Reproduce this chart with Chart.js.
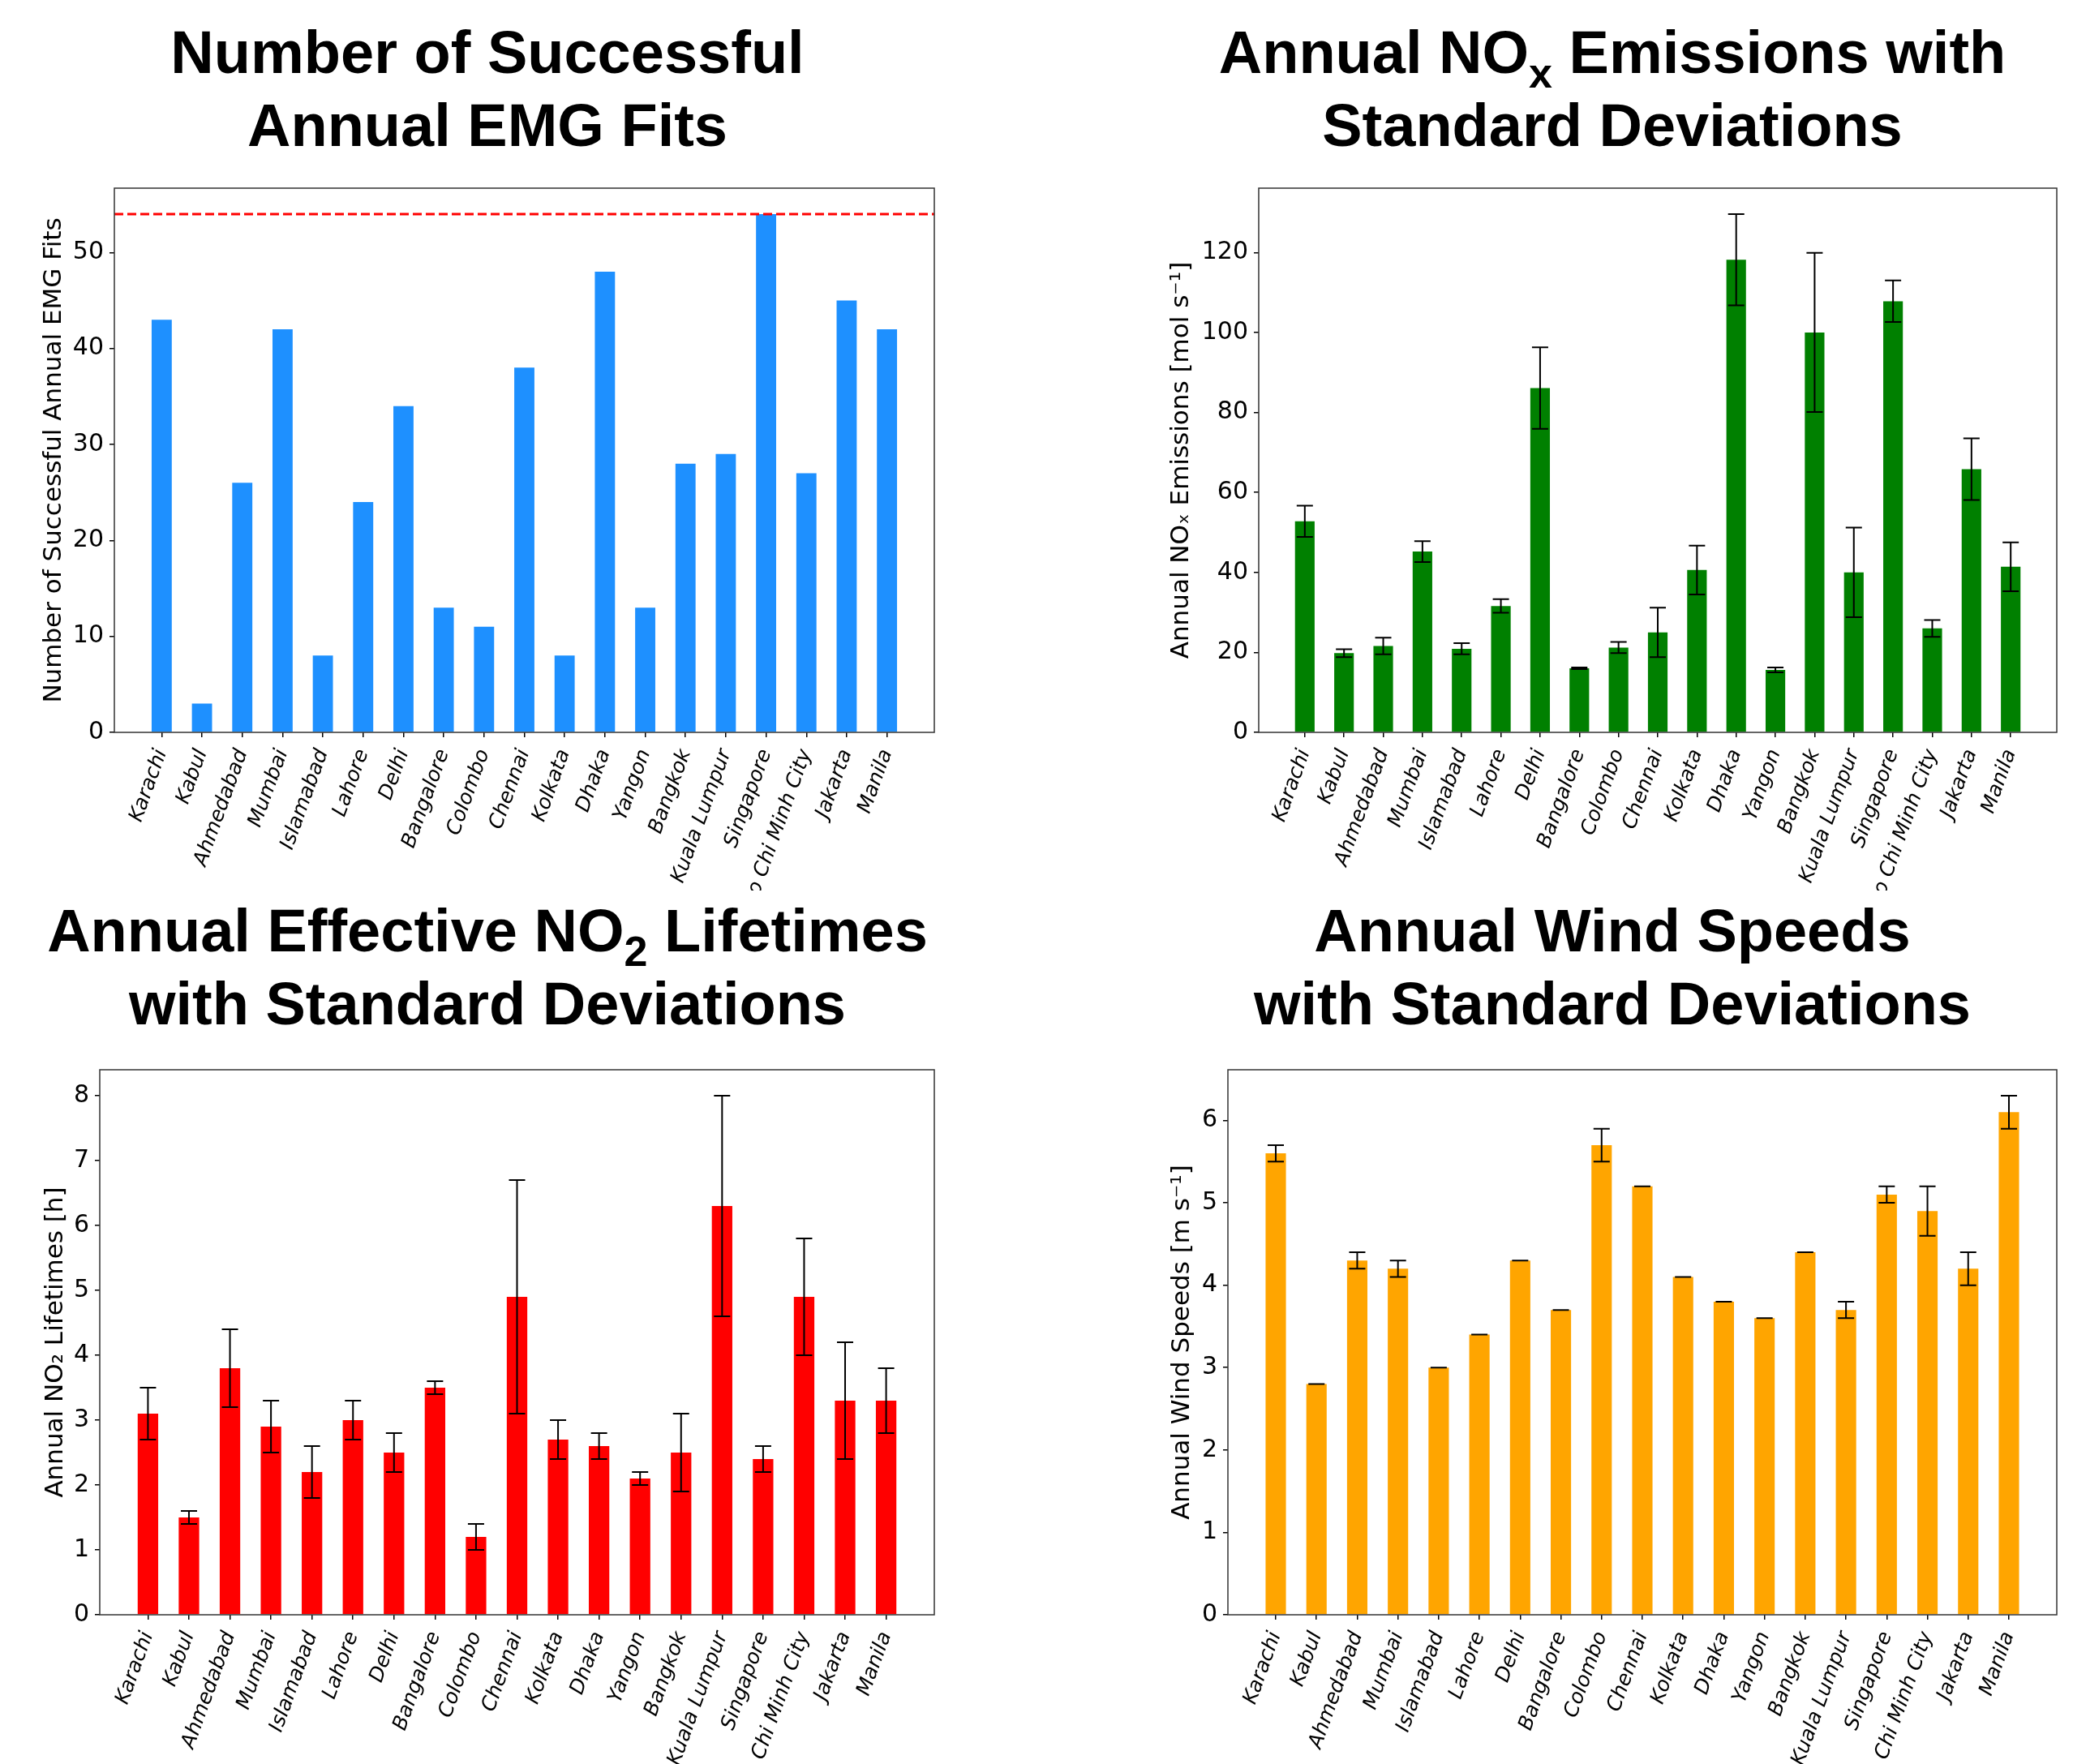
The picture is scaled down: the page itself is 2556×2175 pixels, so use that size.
<!DOCTYPE html>
<html>
<head>
<meta charset="utf-8">
<title>Annual EMG fit results by city</title>
<script src="https://cdn.jsdelivr.net/npm/chart.js@4.4.1/dist/chart.umd.min.js"></script>
<style>
  body { margin: 0; background: #fff; width: 2556px; height: 2175px; overflow: hidden; }
  .panel { position: absolute; width: 1278px; }
  #p1 { left: 0; top: 0; height: 1098px; }
  #p2 { left: 1278px; top: 0; height: 1098px; }
  #p3 { left: 0; top: 1098px; height: 1077px; }
  #p4 { left: 1278px; top: 1098px; height: 1077px; }
</style>
</head>
<body>
<div class="panel" id="p1"><canvas id="fitsChart" width="1278" height="1098"></canvas></div>
<div class="panel" id="p2"><canvas id="noxChart" width="1278" height="1098"></canvas></div>
<div class="panel" id="p3"><canvas id="lifetimeChart" width="1278" height="1077"></canvas></div>
<div class="panel" id="p4"><canvas id="windChart" width="1278" height="1077"></canvas></div>
<script>
const cities = ["Karachi", "Kabul", "Ahmedabad", "Mumbai", "Islamabad", "Lahore", "Delhi", "Bangalore", "Colombo", "Chennai", "Kolkata", "Dhaka", "Yangon", "Bangkok", "Kuala Lumpur", "Singapore", "Ho Chi Minh City", "Jakarta", "Manila"];

// successful fits per city, and the number of years available
const fitCounts = [43, 3, 26, 42, 8, 24, 34, 13, 11, 38, 8, 48, 13, 28, 29, 54, 27, 45, 42];
const maxFits = 54;

// NOx emissions [mol/s]
const noxEmissions = [52.8, 19.8, 21.6, 45.2, 20.9, 31.6, 86.1, 16.0, 21.2, 25.0, 40.6, 118.2, 15.6, 100.0, 40.0, 107.8, 26.0, 65.8, 41.4];
const noxStd = [3.9, 1.0, 2.1, 2.6, 1.4, 1.7, 10.2, 0.2, 1.4, 6.2, 6.1, 11.4, 0.6, 19.9, 11.2, 5.2, 2.1, 7.7, 6.1];

// effective NO2 lifetimes [h]
const lifetimes = [3.1, 1.5, 3.8, 2.9, 2.2, 3.0, 2.5, 3.5, 1.2, 4.9, 2.7, 2.6, 2.1, 2.5, 6.3, 2.4, 4.9, 3.3, 3.3];
const lifetimeStd = [0.4, 0.1, 0.6, 0.4, 0.4, 0.3, 0.3, 0.1, 0.2, 1.8, 0.3, 0.2, 0.1, 0.6, 1.7, 0.2, 0.9, 0.9, 0.5];

// wind speeds [m/s]
const windSpeeds = [5.6, 2.8, 4.3, 4.2, 3.0, 3.4, 4.3, 3.7, 5.7, 5.2, 4.1, 3.8, 3.6, 4.4, 3.7, 5.1, 4.9, 4.2, 6.1];
const windStd = [0.1, 0, 0.1, 0.1, 0, 0, 0, 0, 0.2, 0, 0, 0, 0, 0, 0.1, 0.1, 0.3, 0.2, 0.2];

const tickFont = { family: "DejaVu Sans", size: 30 };
const cityFont = { family: "DejaVu Sans", size: 25, style: "italic" };
const labelFont = { family: "DejaVu Sans", size: 31 };
const titleFont = 'bold 74px "Liberation Sans", Arial, sans-serif';
const subFont = 'bold 52px "Liberation Sans", Arial, sans-serif';

// bars are 0.5 wide, with a 5% margin on both sides
const span = cities.length - 1 + 0.5;
const xMin = -0.25 - 0.05 * span;
const xMax = cities.length - 1 + 0.25 + 0.05 * span;

// black error bars with caps
const errorBars = (errors) => ({
  id: "errorBars",
  afterDatasetsDraw(chart) {
    if (!errors) return;
    const { ctx, scales: { x, y } } = chart;
    const values = chart.data.datasets[0].data;
    ctx.save();
    ctx.strokeStyle = "#000";
    ctx.lineWidth = 2;
    values.forEach((p, i) => {
      const px = x.getPixelForValue(p.x);
      const hi = y.getPixelForValue(p.y + errors[i]);
      const lo = y.getPixelForValue(p.y - errors[i]);
      ctx.beginPath();
      ctx.moveTo(px, hi);
      ctx.lineTo(px, lo);
      ctx.moveTo(px - 10, hi);
      ctx.lineTo(px + 10, hi);
      ctx.moveTo(px - 10, lo);
      ctx.lineTo(px + 10, lo);
      ctx.stroke();
    });
    ctx.restore();
  },
});

// box around the plot area
const frame = {
  id: "frame",
  afterDatasetsDraw(chart) {
    const { ctx, chartArea: a } = chart;
    ctx.save();
    ctx.strokeStyle = "#333";
    ctx.lineWidth = 1.5;
    ctx.strokeRect(a.left, a.top, a.right - a.left, a.bottom - a.top);
    ctx.restore();
  },
};

// two-line bold heading, parts may be subscripted
const heading = (lines, cx) => ({
  id: "heading",
  afterDraw(chart) {
    const ctx = chart.ctx;
    ctx.save();
    ctx.fillStyle = "#000";
    ctx.textAlign = "left";
    ctx.textBaseline = "alphabetic";
    lines.forEach(({ y, parts }) => {
      const widths = parts.map((p) => {
        ctx.font = p.sub ? subFont : titleFont;
        return ctx.measureText(p.text).width;
      });
      let x = cx - widths.reduce((a, b) => a + b, 0) / 2;
      parts.forEach((p, k) => {
        ctx.font = p.sub ? subFont : titleFont;
        ctx.fillText(p.text, x, p.sub ? y + 18 : y);
        x += widths[k];
      });
    });
    ctx.restore();
  },
});

const drawPanel = ({ id, values, errors, color, yLabel, yStep, title, titleX, labelPad, yAxisWidth, xAxisHeight, pad, refLine }) => {
  const ctx = document.getElementById(id).getContext("2d");
  const top = Math.max(...values.map((v, i) => v + (errors ? errors[i] : 0)));

  const datasets = [
    {
      type: "bar",
      data: values.map((v, i) => ({ x: i, y: v })),
      backgroundColor: color,
      barPercentage: 0.5,
      categoryPercentage: 1,
      order: 1,
    },
  ];
  if (refLine !== undefined) {
    datasets.push({
      type: "line",
      data: [{ x: xMin, y: refLine }, { x: xMax, y: refLine }],
      borderColor: "#ff0000",
      borderWidth: 3,
      borderDash: [11, 5],
      pointRadius: 0,
      order: 0,
    });
  }

  return new Chart(ctx, {
    type: "bar",
    data: { datasets },
    options: {
      responsive: false,
      animation: false,
      layout: { padding: pad },
      plugins: { legend: { display: false }, tooltip: { enabled: false } },
      scales: {
        x: {
          type: "linear",
          min: xMin,
          max: xMax,
          offset: false,
          afterBuildTicks: (s) => {
            s.ticks = cities.map((c, i) => ({ value: i }));
          },
          afterFit: (s) => {
            s.height = xAxisHeight;
          },
          ticks: {
            autoSkip: false,
            minRotation: 70,
            maxRotation: 70,
            padding: 11,
            color: "#000",
            font: cityFont,
            callback: (v) => cities[v],
          },
          grid: { drawOnChartArea: false, offset: false, tickLength: 6, tickColor: "#000", lineWidth: 1.5 },
          border: { display: false },
        },
        y: {
          min: 0,
          max: top * 1.05,
          afterFit: (s) => {
            s.width = yAxisWidth;
          },
          ticks: { stepSize: yStep, includeBounds: false, padding: 7, color: "#000", font: tickFont },
          grid: { drawOnChartArea: false, tickLength: 6, tickColor: "#000", lineWidth: 1.5 },
          border: { display: false },
          title: { display: true, text: yLabel, color: "#000", font: labelFont, padding: { top: labelPad, bottom: 0 } },
        },
      },
    },
    plugins: [errorBars(errors), frame, heading(title, titleX)],
  });
};

drawPanel({
  id: "fitsChart",
  values: fitCounts,
  color: "#1e90ff",
  yLabel: "Number of Successful Annual EMG Fits",
  yStep: 10,
  refLine: maxFits,
  title: [
    { y: 90, parts: [{ text: "Number of Successful" }] },
    { y: 180, parts: [{ text: "Annual EMG Fits" }] },
  ],
  titleX: 601,
  labelPad: 48,
  yAxisWidth: 141,
  xAxisHeight: 195,
  pad: { top: 232, right: 126, bottom: 0, left: 0 },
});

drawPanel({
  id: "noxChart",
  values: noxEmissions,
  errors: noxStd,
  color: "#008000",
  yLabel: "Annual NOₓ Emissions [mol s⁻¹]",
  yStep: 20,
  title: [
    { y: 90, parts: [{ text: "Annual NO" }, { text: "x", sub: true }, { text: " Emissions with" }] },
    { y: 180, parts: [{ text: "Standard Deviations" }] },
  ],
  titleX: 710,
  labelPad: 160,
  yAxisWidth: 274,
  xAxisHeight: 195,
  pad: { top: 232, right: 20, bottom: 0, left: 0 },
});

drawPanel({
  id: "lifetimeChart",
  values: lifetimes,
  errors: lifetimeStd,
  color: "#ff0000",
  yLabel: "Annual NO₂ Lifetimes [h]",
  yStep: 1,
  title: [
    { y: 75, parts: [{ text: "Annual Effective NO" }, { text: "2", sub: true }, { text: " Lifetimes" }] },
    { y: 165, parts: [{ text: "with Standard Deviations" }] },
  ],
  titleX: 601,
  labelPad: 50,
  yAxisWidth: 123,
  xAxisHeight: 184,
  pad: { top: 221, right: 126, bottom: 0, left: 0 },
});

drawPanel({
  id: "windChart",
  values: windSpeeds,
  errors: windStd,
  color: "#ffa500",
  yLabel: "Annual Wind Speeds [m s⁻¹]",
  yStep: 1,
  title: [
    { y: 75, parts: [{ text: "Annual Wind Speeds" }] },
    { y: 165, parts: [{ text: "with Standard Deviations" }] },
  ],
  titleX: 710,
  labelPad: 161,
  yAxisWidth: 236,
  xAxisHeight: 184,
  pad: { top: 221, right: 20, bottom: 0, left: 0 },
});
</script>
</body>
</html>
